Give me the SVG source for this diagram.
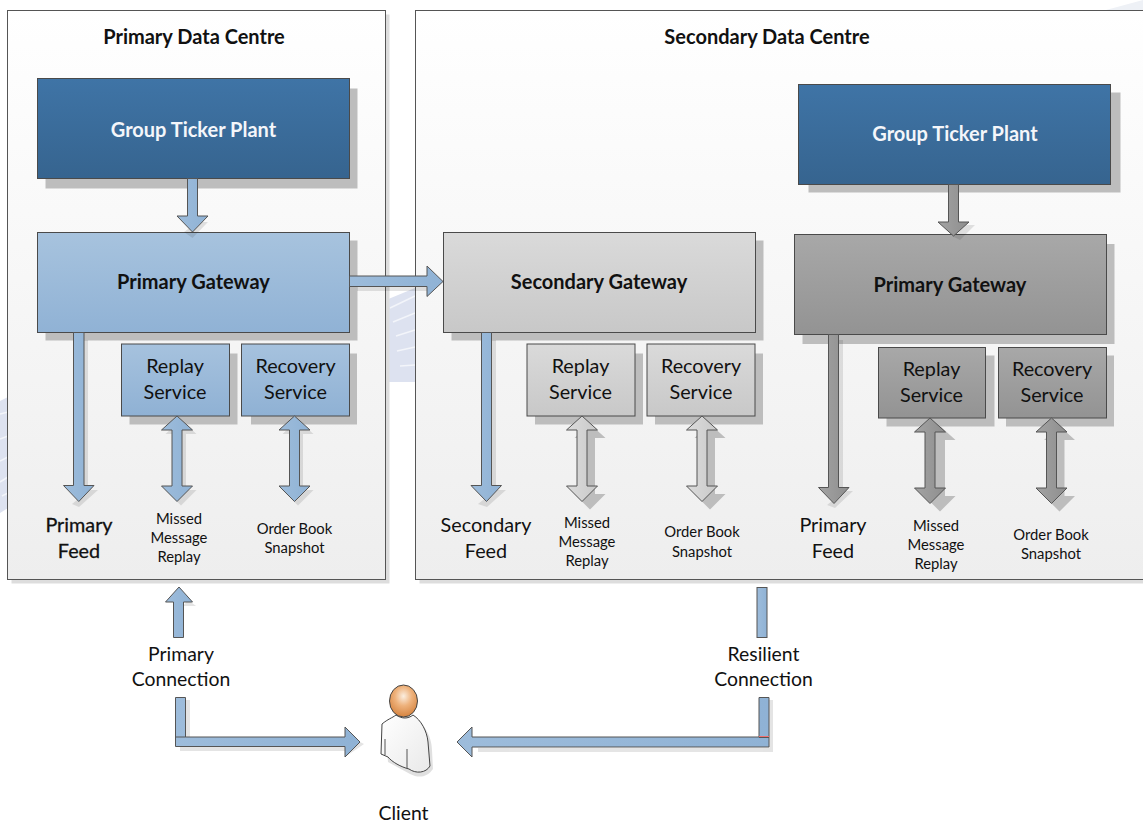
<svg xmlns="http://www.w3.org/2000/svg" width="1143" height="823" viewBox="0 0 1143 823">
<style>
text{font-family:"Lato","Open Sans","Liberation Sans",sans-serif;text-anchor:middle;fill:#111}
.t{font-size:20px;font-weight:700}
.n{font-size:19.800px}
.c{font-size:19.400px}
.s{font-size:14.800px}
.w{fill:#f4f6fa;font-weight:700;font-size:20px}
.dc{stroke:#555;stroke-width:1}
.box{stroke:#4a4a4a;stroke-width:1}
.sh{fill:#bdbdbd}
.ash{fill:#000;opacity:.1}
.a{stroke:#555;stroke-width:1;stroke-linejoin:miter}
.st{stroke:#f3f5fa;stroke-width:1.500;fill:none}
</style>
<defs>
<linearGradient id="gdc" x1="0" y1="0" x2="0" y2="1"><stop offset="0" stop-color="#ffffff"/><stop offset="1" stop-color="#eeeeee"/></linearGradient>
<linearGradient id="gdark" x1="0" y1="0" x2="0" y2="1"><stop offset="0" stop-color="#3f74a6"/><stop offset="1" stop-color="#36648f"/></linearGradient>
<linearGradient id="gblue" x1="0" y1="0" x2="0" y2="1"><stop offset="0" stop-color="#a7c3de"/><stop offset="1" stop-color="#90b2d5"/></linearGradient>
<linearGradient id="gsvc" x1="0" y1="0" x2="0" y2="1"><stop offset="0" stop-color="#a6c2de"/><stop offset="1" stop-color="#8fb1d4"/></linearGradient>
<linearGradient id="glight" x1="0" y1="0" x2="0" y2="1"><stop offset="0" stop-color="#dadada"/><stop offset="1" stop-color="#c8c8c8"/></linearGradient>
<linearGradient id="ggray" x1="0" y1="0" x2="0" y2="1"><stop offset="0" stop-color="#a8a8a8"/><stop offset="1" stop-color="#939393"/></linearGradient>
<linearGradient id="abl" x1="0" y1="0" x2="1" y2="0"><stop offset="0" stop-color="#9dbcdb"/><stop offset="1" stop-color="#8fb2d5"/></linearGradient>
<linearGradient id="agr" x1="0" y1="0" x2="1" y2="0"><stop offset="0" stop-color="#a3a3a3"/><stop offset="1" stop-color="#8e8e8e"/></linearGradient>
<linearGradient id="alt" x1="0" y1="0" x2="1" y2="0"><stop offset="0" stop-color="#dcdcdc"/><stop offset="1" stop-color="#c9c9c9"/></linearGradient>
<radialGradient id="ghead" cx=".5" cy=".35" r=".6"><stop offset="0" stop-color="#fbeee0"/><stop offset=".5" stop-color="#eeb27c"/><stop offset="1" stop-color="#d98a48"/></radialGradient>
<linearGradient id="gbody" x1="0" y1="0" x2="1" y2="1"><stop offset="0" stop-color="#ffffff"/><stop offset="1" stop-color="#e9e9e9"/></linearGradient>
<path id="dbl" d="M0 0L15.500 14L5 14L5 70L15.500 70L0 85.500L-15.500 70L-5 70L-5 14L-15.500 14Z"/>
</defs>

<g id="watermark">
<path d="M386 300L415 288L415 382L386 382Z" fill="#dde2f0"/>
<path d="M390 308L415 296M393 322L415 313M396 336L415 330M397 351L415 347M400 366L415 365" class="st"/>
<path d="M0 401L8 397L8 508L0 513Z" fill="#dde2f0"/>
<path d="M0 414L8 412M0 439L8 436M0 461L8 457M0 482L8 477M2 496L8 493" class="st"/>
<path d="M1106 10L1143 0L1143 10Z" fill="#eef1f6"/>
</g>

<g id="primary-dc">
<rect x="11.500" y="14.500" width="378" height="569" fill="#ddd"/>
<rect class="dc" x="7.500" y="10.500" width="378" height="569" fill="url(#gdc)"/>
<text class="t" x="194" y="44">Primary Data Centre</text>
</g>
<g id="secondary-dc">
<rect x="419.500" y="14.500" width="730" height="569" fill="#ddd"/>
<rect class="dc" x="415.500" y="10.500" width="730" height="569" fill="url(#gdc)"/>
<text class="t" x="767" y="44">Secondary Data Centre</text>
</g>

<g id="gtp1"><rect class="sh" x="45.500" y="88.500" width="312" height="100"/><rect class="box" x="37.500" y="78.500" width="312" height="100" fill="url(#gdark)"/><text class="w" x="193.500" y="137">Group Ticker Plant</text></g>
<g id="gw1"><rect class="sh" x="45.500" y="240.500" width="312" height="100"/><rect class="box" x="37.500" y="232.500" width="312" height="100" fill="url(#gblue)"/><text class="t" x="193.500" y="289">Primary Gateway</text></g>
<g id="replay1"><rect class="sh" x="129.500" y="353.500" width="108" height="71"/><rect class="box" x="121.500" y="344" width="108" height="72" fill="url(#gsvc)"/><text class="n" x="175" y="373">Replay</text><text class="n" x="175" y="399">Service</text></g>
<g id="recovery1"><rect class="sh" x="251" y="353.500" width="106" height="71"/><rect class="box" x="241.500" y="344" width="108" height="72" fill="url(#gsvc)"/><text class="n" x="295.500" y="373">Recovery</text><text class="n" x="295.500" y="399">Service</text></g>

<g id="gw2"><rect class="sh" x="451.500" y="240.500" width="312" height="100"/><rect class="box" x="443.500" y="232.500" width="312" height="100" fill="url(#glight)"/><text class="t" x="599" y="289">Secondary Gateway</text></g>
<g id="replay2"><rect class="sh" x="535" y="353.500" width="108" height="71"/><rect class="box" x="527" y="344" width="108" height="72" fill="url(#glight)"/><text class="n" x="580.500" y="373">Replay</text><text class="n" x="580.500" y="399">Service</text></g>
<g id="recovery2"><rect class="sh" x="655" y="353.500" width="108" height="71"/><rect class="box" x="647" y="344" width="108" height="72" fill="url(#glight)"/><text class="n" x="701" y="373">Recovery</text><text class="n" x="701" y="399">Service</text></g>

<g id="gtp2"><rect class="sh" x="808.500" y="92.500" width="312" height="100"/><rect class="box" x="798.500" y="84.500" width="312" height="100" fill="url(#gdark)"/><text class="w" x="955" y="141">Group Ticker Plant</text></g>
<g id="gw3"><rect class="sh" x="802.500" y="244" width="312" height="100"/><rect class="box" x="794.500" y="234.500" width="312" height="100" fill="url(#ggray)"/><text class="t" x="950" y="292">Primary Gateway</text></g>
<g id="replay3"><rect class="sh" x="886.500" y="355.500" width="108" height="71"/><rect class="box" x="878.500" y="347.500" width="107" height="70.500" fill="url(#ggray)"/><text class="n" x="931.500" y="376">Replay</text><text class="n" x="931.500" y="402">Service</text></g>
<g id="recovery3"><rect class="sh" x="1006" y="355.500" width="108" height="71"/><rect class="box" x="998.500" y="347.500" width="108" height="70.500" fill="url(#ggray)"/><text class="n" x="1052" y="376">Recovery</text><text class="n" x="1052" y="402">Service</text></g>

<g id="connectors">
<g class="ash">
<path d="M197.500 222L208 222L192.500 238L184 232Z"/>
<path d="M357 287L427 287L427 291L357 291Z"/>
<path d="M84 340L88 340L88 490L98 490L79 507L72 504L94 486L84 486Z"/>
<use href="#dbl" x="181" y="420"/>
<use href="#dbl" x="298" y="420"/>
<path d="M183 606L196 606L188 600Z"/>
<path d="M186 700L190 700L190 742L186 742Z"/>
<path d="M180 747L345 747L345 751L180 751Z"/>
<path d="M345 757L364 744L360 742L345 757Z"/>
<path d="M478 748L773 748L773 752L478 752Z"/>
<path d="M769 700L773 700L773 752L769 752Z"/>
<path d="M492 340L496 340L496 490L506 490L487 507L478 504L501 486L492 486Z"/>
<path d="M959 225L975 225L960 240L952 236Z"/>
<path d="M839 340L843 340L843 491L853 491L835 508L827 505L849 487L839 487Z"/>
</g>
<g fill="#bdbdbd">
<use href="#dbl" x="590" y="424"/>
<use href="#dbl" x="710" y="424"/>
<use href="#dbl" x="940" y="426"/>
<use href="#dbl" x="1059.500" y="426"/>
</g>

<path id="e1" class="a" fill="url(#abl)" d="M187.500 178.500L197.500 178.500L197.500 216L208 216L192.500 232L177 216L187.500 216Z"/>
<path id="e2" class="a" fill="url(#abl)" d="M349.500 276L427 276L427 266L443 281.500L427 296.500L427 286.500L349.500 286.500Z"/>
<path id="e3" class="a" fill="url(#abl)" d="M73.500 332.500L84 332.500L84 485.500L94 485.500L78.800 501.500L63.500 485.500L73.500 485.500Z"/>
<use id="e4" class="a" href="#dbl" x="177" y="416" fill="url(#abl)"/>
<use id="e5" class="a" href="#dbl" x="294.500" y="416" fill="url(#abl)"/>
<path id="e6" class="a" fill="url(#abl)" d="M173.500 637.500L173.500 602L165.500 602L179 587L192.500 602L183.500 602L183.500 637.500Z"/>
<path id="e7" class="a" fill="url(#abl)" d="M175.500 697.500L185.500 697.500L185.500 737L345 737L345 727L360 742L345 757L345 746.500L175.500 746.500Z"/>
<line id="e7j" x1="175.500" y1="737" x2="185.500" y2="737" stroke="#555" stroke-width="1"/>
<path id="e8" class="a" fill="url(#abl)" d="M759 697.500L769 697.500L769 747L472 747L472 757L457 742L472 727L472 737L759 737Z"/>
<line id="e8j" x1="759" y1="737.500" x2="769" y2="737.500" stroke="#555" stroke-width="1"/>
<line id="e8r" x1="759" y1="736.500" x2="769" y2="736.500" stroke="#f07070" stroke-width="1"/>
<rect id="e9" class="a" fill="url(#abl)" x="757" y="587.500" width="10" height="50"/>
<path id="e10" class="a" fill="url(#abl)" d="M481.500 332.500L491.500 332.500L491.500 485.500L501.500 485.500L486.500 501.500L471 485.500L481.500 485.500Z"/>
<use id="e11" class="a" href="#dbl" x="582" y="416" fill="url(#alt)"/>
<use id="e12" class="a" href="#dbl" x="702" y="416" fill="url(#alt)"/>
<path id="e13" class="a" fill="url(#agr)" d="M948.500 184.500L958.500 184.500L958.500 222L969 222L953.500 236L938 222L948.500 222Z"/>
<path id="e14" class="a" fill="url(#agr)" d="M828.500 334.500L838.500 334.500L838.500 487.500L849 487.500L834 503.500L818.500 487.500L828.500 487.500Z"/>
<use id="e15" class="a" href="#dbl" x="930" y="418" fill="url(#agr)"/>
<use id="e16" class="a" href="#dbl" x="1051.500" y="418" fill="url(#agr)"/>
</g>

<g id="labels">
<text class="n" x="79" y="532" style="stroke:#111;stroke-width:.3px">Primary</text><text class="n" x="79" y="558" style="stroke:#111;stroke-width:.3px">Feed</text>
<text class="s" x="179" y="524">Missed</text><text class="s" x="179" y="543">Message</text><text class="s" x="179" y="562">Replay</text>
<text class="s" x="294.500" y="534">Order Book</text><text class="s" x="294.500" y="553">Snapshot</text>
<text class="n" x="486" y="532">Secondary</text><text class="n" x="486" y="558">Feed</text>
<text class="s" x="587" y="528">Missed</text><text class="s" x="587" y="547">Message</text><text class="s" x="587" y="566">Replay</text>
<text class="s" x="702" y="537">Order Book</text><text class="s" x="702" y="557">Snapshot</text>
<text class="n" x="833" y="532">Primary</text><text class="n" x="833" y="558">Feed</text>
<text class="s" x="936" y="531">Missed</text><text class="s" x="936" y="550">Message</text><text class="s" x="936" y="569">Replay</text>
<text class="s" x="1051" y="540">Order Book</text><text class="s" x="1051" y="559">Snapshot</text>
<text class="c" x="181" y="661">Primary</text><text class="c" x="181" y="686">Connection</text>
<text class="c" x="763.500" y="661">Resilient</text><text class="c" x="763.500" y="686">Connection</text>
</g>

<g id="client">
<path d="M385 723C392 719 396 716 410 716C422 720 432 735 432 750L433 769C427 778 418 778 410 774L388 762Z" fill="#000" opacity=".12"/>
<path d="M382 724C388 719 392 718 396 715C402 719 408 719 413 715C421 720 427 731 428 742L430 766C426 773 416 774 409 769C401 767 392 762 388 757L381 754Z" fill="url(#gbody)" stroke="#444" stroke-width="1"/>
<path d="M385 739L385 755M407 749L407 768" stroke="#555" fill="none"/>
<ellipse cx="403.500" cy="701" rx="14" ry="16" fill="url(#ghead)" stroke="#444" stroke-width="1"/>
<text x="403.500" y="820" class="c">Client</text>
</g>
</svg>
